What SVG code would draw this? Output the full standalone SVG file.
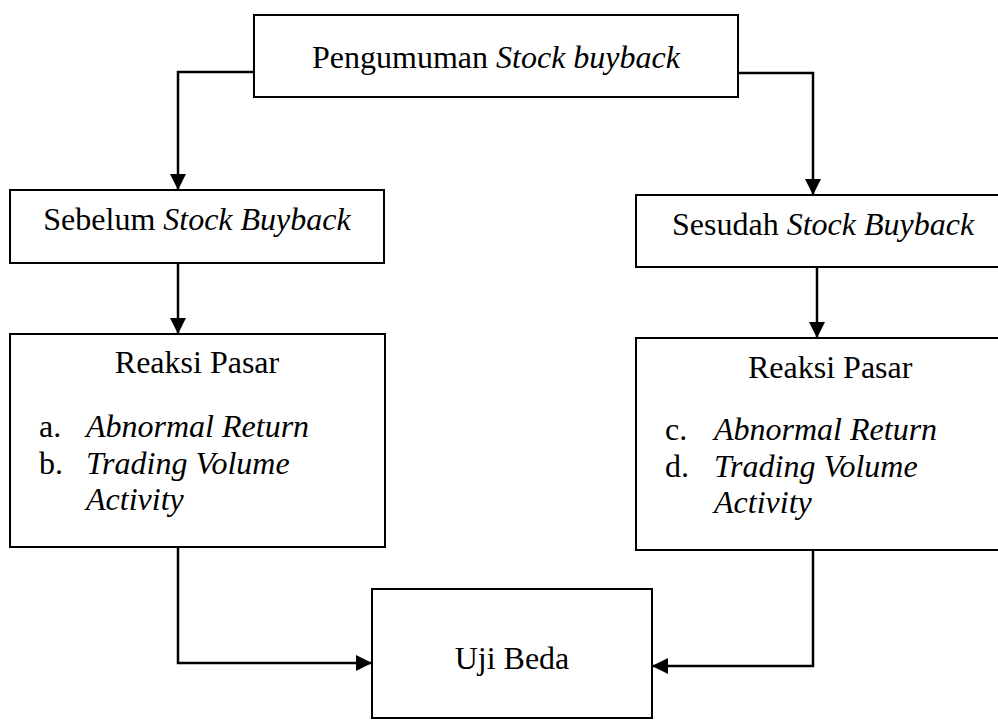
<svg xmlns="http://www.w3.org/2000/svg" width="998" height="722" viewBox="0 0 998 722">
<style>
.box{fill:#fff;stroke:#000;stroke-width:2}
.t{font-family:"Liberation Serif","Times New Roman",serif;font-size:32px;fill:#000}
.i{font-style:italic}
.c{stroke:#000;stroke-width:2.5;fill:none}
</style>
<defs>
<marker id="ah" markerUnits="userSpaceOnUse" markerWidth="16" markerHeight="16" viewBox="0 0 14 14" refX="14" refY="7" orient="auto">
<path d="M0,0 L14,7 L0,14 Z" fill="#000"/>
</marker>
</defs>
<rect width="998" height="722" fill="#fff"/>
<g id="connectors">
<path class="c" d="M254,72 H178 V190" marker-end="url(#ah)"/>
<path class="c" d="M738,73 H813 V195" marker-end="url(#ah)"/>
<path class="c" d="M178,263 V334" marker-end="url(#ah)"/>
<path class="c" d="M817,267 V338" marker-end="url(#ah)"/>
<path class="c" d="M178,547 V663 H372" marker-end="url(#ah)"/>
<path class="c" d="M813,551 V666 H652" marker-end="url(#ah)"/>
</g>
<g id="pengumuman">
<rect class="box" x="254" y="15" width="484" height="82"/>
<text class="t" x="496" y="68" text-anchor="middle">Pengumuman <tspan class="i">Stock buyback</tspan></text>
</g>
<g id="sebelum">
<rect class="box" x="10" y="190" width="374" height="73"/>
<text class="t" x="197" y="230" text-anchor="middle">Sebelum <tspan class="i">Stock Buyback</tspan></text>
</g>
<g id="sesudah">
<rect class="box" x="636" y="195" width="380" height="72"/>
<text class="t" x="672" y="235">Sesudah <tspan class="i">Stock Buyback</tspan></text>
</g>
<g id="reaksi-kiri">
<rect class="box" x="10" y="334" width="375" height="213"/>
<text class="t" x="197" y="373" text-anchor="middle">Reaksi Pasar</text>
<text class="t" x="39" y="437">a.</text>
<text class="t i" x="86" y="437">Abnormal Return</text>
<text class="t" x="39" y="474">b.</text>
<text class="t i" x="86" y="474">Trading Volume</text>
<text class="t i" x="86" y="510">Activity</text>
</g>
<g id="reaksi-kanan">
<rect class="box" x="636" y="338" width="380" height="212"/>
<text class="t" x="748" y="378">Reaksi Pasar</text>
<text class="t" x="665" y="440">c.</text>
<text class="t i" x="714" y="440">Abnormal Return</text>
<text class="t" x="665" y="477">d.</text>
<text class="t i" x="714" y="477">Trading Volume</text>
<text class="t i" x="714" y="513">Activity</text>
</g>
<g id="uji-beda">
<rect class="box" x="372" y="589" width="280" height="129"/>
<text class="t" x="512" y="669" text-anchor="middle">Uji Beda</text>
</g>
</svg>
